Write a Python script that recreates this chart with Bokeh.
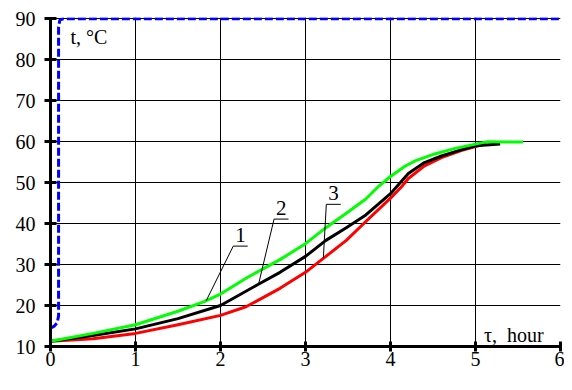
from bokeh.plotting import figure
from bokeh.models import Range1d, FixedTicker, Label
from bokeh.embed import file_html
from bokeh.resources import INLINE

# ---- data ----
x_ticks = [0, 1, 2, 3, 4, 5, 6]
y_ticks = [10, 20, 30, 40, 50, 60, 70, 80, 90]

# curve 1 (green)
t1 = [0, 0.5, 1, 1.5, 1.8, 2, 2.32, 2.7, 3, 3.24, 3.48, 3.71, 3.86, 4, 4.17, 4.29, 4.52, 4.75, 5, 5.14, 5.56]
y1 = [11.3, 13.2, 15.3, 18.6, 20.9, 22.8, 26.9, 31.2, 35.1, 39.0, 42.5, 46.0, 49.1, 51.5, 54.0, 55.3, 57.0, 58.3, 59.4, 60.0, 59.9]

# curve 2 (black)
t2 = [0, 0.5, 1, 1.5, 2, 2.43, 2.7, 3, 3.24, 3.48, 3.71, 4, 4.21, 4.4, 4.6, 4.83, 5, 5.29]
y2 = [11.3, 12.7, 14.3, 16.8, 20.0, 25.0, 28.1, 32.0, 35.9, 39.0, 42.1, 47.3, 52.2, 54.9, 56.5, 58.0, 59.0, 59.4]

# curve 3 (red)
t3 = [0, 0.5, 1, 1.5, 2, 2.3, 2.7, 3, 3.24, 3.48, 3.71, 4, 4.13, 4.21, 4.4, 4.6, 4.83, 5, 5.12]
y3 = [11.3, 11.9, 13.2, 15.3, 17.6, 19.7, 24.2, 28.1, 32.0, 35.9, 40.5, 46.2, 49.0, 51.0, 54.1, 56.1, 57.8, 58.8, 59.5]

# heating medium (blue dashed)
t_med = [0, 0.04, 0.08, 0.095, 0.095, 0.11, 0.15, 6]
y_med = [14.5, 14.9, 15.8, 17.5, 88.0, 89.7, 90.0, 90.0]

curve_labels = ["1", "2", "3"]
# leader: (label-left x, label y, curve point x, curve point y)
leaders = [(2.15, 34.5, 1.83, 21.1), (2.63, 41.1, 2.45, 25.4), (3.245, 44.7, 3.21, 31.6)]
underline_len = 0.17

FONT = "Liberation Serif"

p = figure(width=564, height=374, x_range=Range1d(0, 6), y_range=Range1d(10, 90.3),
           output_backend="svg", toolbar_location=None,
           min_border_left=50, min_border_right=4, min_border_top=17, min_border_bottom=28)
p.outline_line_color = None
p.background_fill_color = "white"
p.border_fill_color = "white"

p.xaxis.ticker = FixedTicker(ticks=x_ticks)
p.yaxis.ticker = FixedTicker(ticks=y_ticks)
for ax in (p.xaxis, p.yaxis):
    ax.axis_line_width = 3
    ax.axis_line_color = "black"
    ax.major_tick_line_width = 3
    ax.major_tick_line_color = "black"
    ax.minor_tick_line_color = None
    ax.major_label_text_font = FONT
    ax.major_label_text_font_size = "20px"
    ax.major_label_text_color = "black"
p.xaxis.major_tick_in = 5
p.xaxis.major_tick_out = 5
p.xaxis.major_label_standoff = 0
p.yaxis.major_tick_in = 6
p.yaxis.major_tick_out = 6
p.yaxis.major_label_standoff = 9

p.xgrid.ticker = FixedTicker(ticks=x_ticks)
p.ygrid.ticker = FixedTicker(ticks=y_ticks)
p.grid.grid_line_color = "black"
p.grid.grid_line_width = 1
p.grid.grid_line_alpha = 1.0

p.line(t_med, y_med, line_color="#0000ff", line_width=3, line_dash="8 3")
p.line(t3, y3, line_color="#ff0000", line_width=3, line_join="round")
p.line(t2, y2, line_color="black", line_width=3, line_join="round")
p.line(t1, y1, line_color="#00ff00", line_width=3, line_join="round")

for lab, (lx, ly, cx, cy) in zip(curve_labels, leaders):
    p.line([lx + underline_len, lx, cx], [ly, ly, cy], line_color="black", line_width=1)
    p.add_layout(Label(x=lx + underline_len / 2, y=ly + 1.0, text=lab, text_font=FONT,
                       text_font_size="21px", text_align="center", text_baseline="bottom",
                       text_color="black"))

p.add_layout(Label(x=0.235, y=88.3, text="t, °C", text_font=FONT, text_font_size="20px",
                   text_baseline="top", text_color="black"))
p.add_layout(Label(x=5.1, y=10.15, text="τ, \u00a0hour", text_font=FONT, text_font_size="20px",
                   text_baseline="bottom", text_color="black"))

open("out.html", "w").write(file_html(p, INLINE))
